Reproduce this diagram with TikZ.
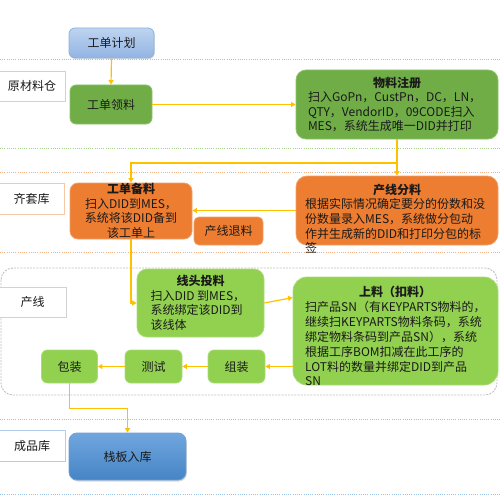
\documentclass[tikz,border=0pt]{standalone}
\usepackage{fontspec}
\setmainfont{Noto Sans CJK SC}
\usetikzlibrary{arrows.meta,calc,shadows}
\definecolor{arrowc}{HTML}{FFC000}
\definecolor{dgfill}{HTML}{70AD47}
\definecolor{dgline}{HTML}{8CC26A}
\definecolor{lgfill}{HTML}{92D050}
\definecolor{lgline}{HTML}{A9DC78}
\definecolor{orfill}{HTML}{ED7D31}
\definecolor{orline}{HTML}{F2A06A}
\definecolor{laneg}{HTML}{A9D18E}
\definecolor{laneo}{HTML}{F4B183}
\definecolor{laneb}{HTML}{9DC3E6}
\definecolor{laneq}{HTML}{BFBFBF}
\definecolor{txt}{HTML}{1A1A1A}
\tikzset{
  bx/.style 2 args={rectangle, rounded corners=6pt, minimum width=#1, minimum height=#2, inner sep=0pt, line width=0.8pt},
  dgreen/.style={fill=dgfill, draw=dgline},
  lgreen/.style={fill=lgfill, draw=lgline},
  orng/.style={fill=orfill, draw=orline},
  lblue/.style={top color=blue!10!cyan!5!white!70!blue!30, draw=none},
  lbl/.style 2 args={rectangle, minimum width=#1, minimum height=#2, fill=white, line width=0.8pt, inner sep=0pt},
  flow/.style={draw=arrowc, line width=1.2pt, -{Triangle[length=4.5pt,width=5pt]}},
  lane/.style={line width=1pt, dash pattern=on 1pt off 1.2pt},
  ttl/.style={font=\fontsize{12}{14.5}\selectfont\bfseries},
}
\begin{document}
\begin{tikzpicture}[x=1pt,y=-1pt, every node/.style={font=\fontsize{12}{14.5}\selectfont, text=txt}]
\useasboundingbox (0,0) rectangle (500,500);
% lanes
\draw[lane, laneg] (0,60) -- (500,60);
\draw[lane, laneg] (0,148.5) -- (500,148.5);
\draw[lane, laneo] (0,172.5) -- (500,172.5);
\draw[lane, laneo] (0,252) -- (500,252);
\draw[laneq, line width=0.9pt, dash pattern=on 2pt off 1.2pt, rounded corners=12pt] (1,268) rectangle (497,395);
\draw[lane, laneb] (0,419.5) -- (500,419.5);
\draw[lane, laneb] (0,494) -- (500,494);
% lane labels
\node[lbl={66}{30}, draw=laneg!70] (l1) at (32,86) {原材料仓};
\node[lbl={65}{31}, draw=laneo!70] (l2) at (31.5,198.5) {齐套库};
\node[lbl={67}{30}, draw=laneq!70] (l3) at (32.5,302) {产线};
\node[lbl={66}{31}, draw=laneb!80] (l4) at (32,445.5) {成品库};
% boxes
\node[bx={85}{30}, top color={rgb,255:red,190;green,212;blue,240}, bottom color={rgb,255:red,146;green,180;blue,226}, draw={rgb,255:red,140;green,176;blue,222}, drop shadow={opacity=0.25, shadow xshift=0.8pt, shadow yshift=-1.2pt}] (jh) at (111.5,43) {工单计划};
\node[bx={82}{39}, dgreen] (gl) at (111,104.5) {工单领料};
\node[bx={202}{69}, dgreen, rounded corners=10pt, align=left] (wl) at (397,104.5)
  {\makebox[178pt]{\bfseries 物料注册}\\扫入GoPn，CustPn，DC，LN，\\QTY，VendorID，09CODE扫入\\MES，系统生成唯一DID并打印};
\node[bx={122}{56}, orng, rounded corners=8pt, align=center] (gb) at (131,211)
  {{\bfseries 工单备料}\\扫入DID到MES，\\系统将该DID备到\\该工单上};
\node[bx={69}{28}, orng, rounded corners=5pt] (tl) at (228.5,231) {产线退料};
\node[bx={202}{69}, orng, rounded corners=11pt] (cf) at (397,210.5) {};
\node[anchor=north west, inner sep=0pt, align=left, font=\fontsize{12}{14.7}\selectfont] (cft) at (305,183.5)
  {\makebox[184pt]{\bfseries 产线分料}\\根据实际情况确定要分的份数和没\\份数量录入MES，系统做分包动\\作并生成新的DID和打印分包的标\\签};
\node[bx={127}{68}, lgreen, rounded corners=10pt, align=left] (xt) at (200.5,303)
  {\makebox[100pt]{\bfseries 线头投料}\\扫入DID 到MES，\\系统绑定该DID到\\该线体};
\node[bx={205}{108}, lgreen, rounded corners=14pt] (sl) at (395.5,331) {};
\node[anchor=north west, inner sep=0pt, align=left, font=\fontsize{12}{14.9}\selectfont] (slt) at (305,286)
  {\makebox[180pt]{\bfseries 上料（扣料）}\\扫产品SN（有KEYPARTS物料的，\\继续扫KEYPARTS物料条码，系统\\绑定物料条码到产品SN），系统\\根据工序BOM扣减在此工序的\\LOT料的数量并绑定DID到产品\\SN};
\node[bx={57}{33}, lgreen] (zz) at (236.5,366.5) {组装};
\node[bx={57}{33}, lgreen] (cs) at (153.5,366.5) {测试};
\node[bx={56}{33}, lgreen] (bz) at (69.5,366.5) {包装};
\node[bx={117}{47}, rounded corners=8pt, top color={rgb,255:red,112;green,166;blue,222}, bottom color={rgb,255:red,70;green,132;blue,198}, draw={rgb,255:red,110;green,160;blue,215}, drop shadow={opacity=0.3, shadow xshift=0.8pt, shadow yshift=-1.5pt}] (zb) at (127.5,456.5) {栈板入库};
% connectors
\draw[flow] (jh.south) -- (gl.north);
\draw[flow] (gl.east) -- (wl.west);
\coordinate (sp) at (397,163);
\draw[flow] (wl.south) -- (sp) -- (cf.north);
\draw[flow] (sp) -| (gb.north);
\draw[flow] (cf.west) -- (cf.west -| gb.east);
\draw[flow] (gb.south) |- (xt.west);
\draw[flow] (xt.east) -- ($(sl.north west)+(0,21)$);
\draw[flow] (sl.west |- zz.east) -- (zz.east);
\draw[flow] (zz.west) -- (cs.east);
\draw[flow] (cs.west) -- (bz.east);
\draw[flow] (bz.south) -- ++(0,25) -| (zb.north);
\end{tikzpicture}
\end{document}
